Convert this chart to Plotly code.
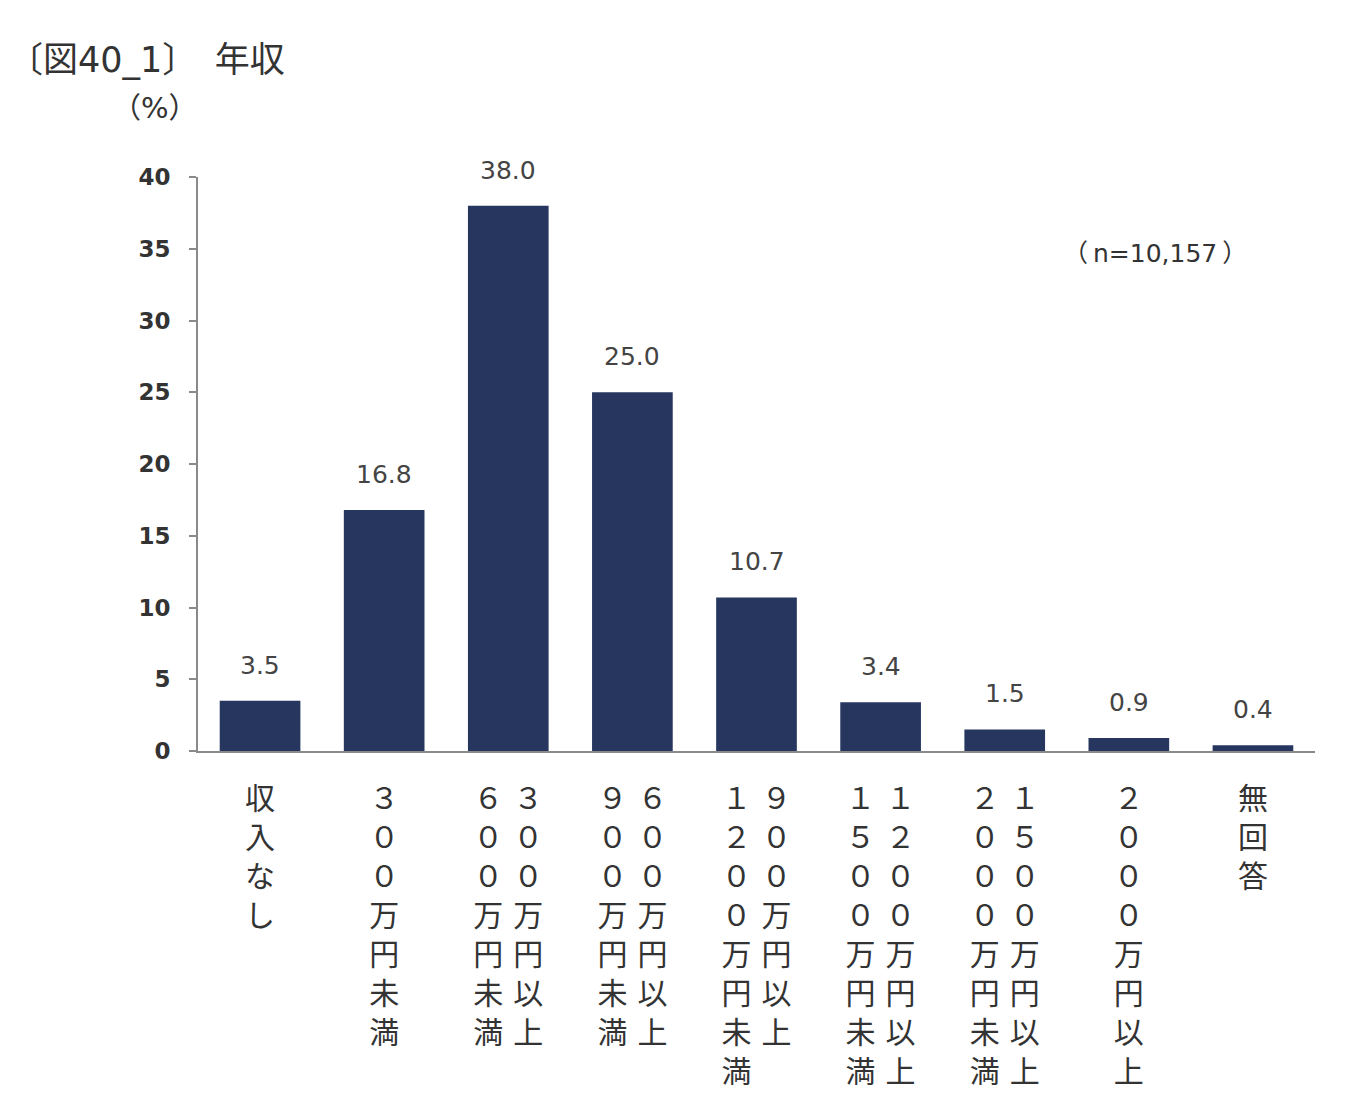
import plotly.graph_objects as go

categories = ["収入なし", "300万円未満", "300万円以上600万円未満", "600万円以上900万円未満",
              "900万円以上1200万円未満", "1200万円以上1500万円未満", "1500万円以上2000万円未満",
              "2000万円以上", "無回答"]
values = [3.5, 16.8, 38.0, 25.0, 10.7, 3.4, 1.5, 0.9, 0.4]
# vertical label columns, left to right (read right to left)
label_columns = [
    ["収入なし"],
    ["３００万円未満"],
    ["６００万円未満", "３００万円以上"],
    ["９００万円未満", "６００万円以上"],
    ["１２００万円未満", "９００万円以上"],
    ["１５００万円未満", "１２００万円以上"],
    ["２０００万円未満", "１５００万円以上"],
    ["２０００万円以上"],
    ["無回答"],
]
y_ticks = [0, 5, 10, 15, 20, 25, 30, 35, 40]
title_text = "〔図40_1〕\u2002年収"
unit_text = "（%）"
n_text = "（\u2009n=10,157\u2009）"

SEP = "\u2004"
FILL = "\u3000"


def vertical(cols):
    n = max(len(c) for c in cols)
    lines = []
    for i in range(n):
        chars = [c[i] if i < len(c) else FILL for c in cols]
        lines.append(SEP.join(chars))
    return "<br>".join(lines)


ticktext = [vertical(c) for c in label_columns]

JP = "Noto Sans CJK JP, Noto Sans CJK SC, sans-serif"
LAT = "DejaVu Sans, Noto Sans CJK JP, sans-serif"

# page has an 8px body margin; compensate
OFF = 8
W, H = 1350 - 2 * OFF, 1120 - 2 * OFF
l, t = 198 - OFF, 177 - OFF
r = (W + OFF) - 1315
b = (H + OFF) - 751
pw, ph = W - l - r, H - t - b


def px(x):
    return (x - OFF - l) / pw


def py(y):
    return 1 - (y - OFF - t) / ph


fig = go.Figure()
fig.add_trace(go.Bar(
    x=categories, y=values,
    marker=dict(color="#26365F", line=dict(width=0)),
    width=0.65,
))

anns = []
for c, v in zip(categories, values):
    anns.append(dict(
        x=c, y=v, xref="x", yref="y", text=f"{v:.1f}", showarrow=False,
        yanchor="bottom", yshift=19,
        font=dict(family=LAT, size=25, color="#444444"),
    ))
anns.append(dict(text=title_text, x=px(6), y=py(60), xref="paper", yref="paper", showarrow=False,
                 xanchor="left", yanchor="middle", font=dict(family=LAT, size=35, color="#333333")))
anns.append(dict(text=unit_text, x=px(155), y=py(108), xref="paper", yref="paper", showarrow=False,
                 xanchor="center", yanchor="middle", font=dict(family=LAT, size=29, color="#333333")))
anns.append(dict(text=n_text, x=px(1155), y=py(253), xref="paper", yref="paper", showarrow=False,
                 xanchor="center", yanchor="middle", font=dict(family=LAT, size=25, color="#333333")))

fig.update_layout(
    width=W, height=H,
    paper_bgcolor="white", plot_bgcolor="white",
    margin=dict(l=l, r=r, t=t, b=b, autoexpand=False),
    showlegend=False,
    bargap=0.35,
    xaxis=dict(
        tickmode="array", tickvals=categories, ticktext=ticktext,
        tickfont=dict(family=JP, size=30, color="#333333"),
        showline=True, linecolor="#8a8a8a", linewidth=2,
        ticks="", showgrid=False, tickangle=0,
        ticklabelstandoff=20, automargin=False,
    ),
    yaxis=dict(
        range=[0, 40], tickvals=y_ticks,
        tickfont=dict(family=LAT, size=23, color="#333333", weight="bold"),
        showline=True, linecolor="#8a8a8a", linewidth=2,
        ticks="outside", ticklen=7, tickcolor="#8a8a8a", tickwidth=2,
        showgrid=False, zeroline=False,
        ticklabelstandoff=14, automargin=False,
    ),
    annotations=anns,
)

fig.write_html("out.html")
